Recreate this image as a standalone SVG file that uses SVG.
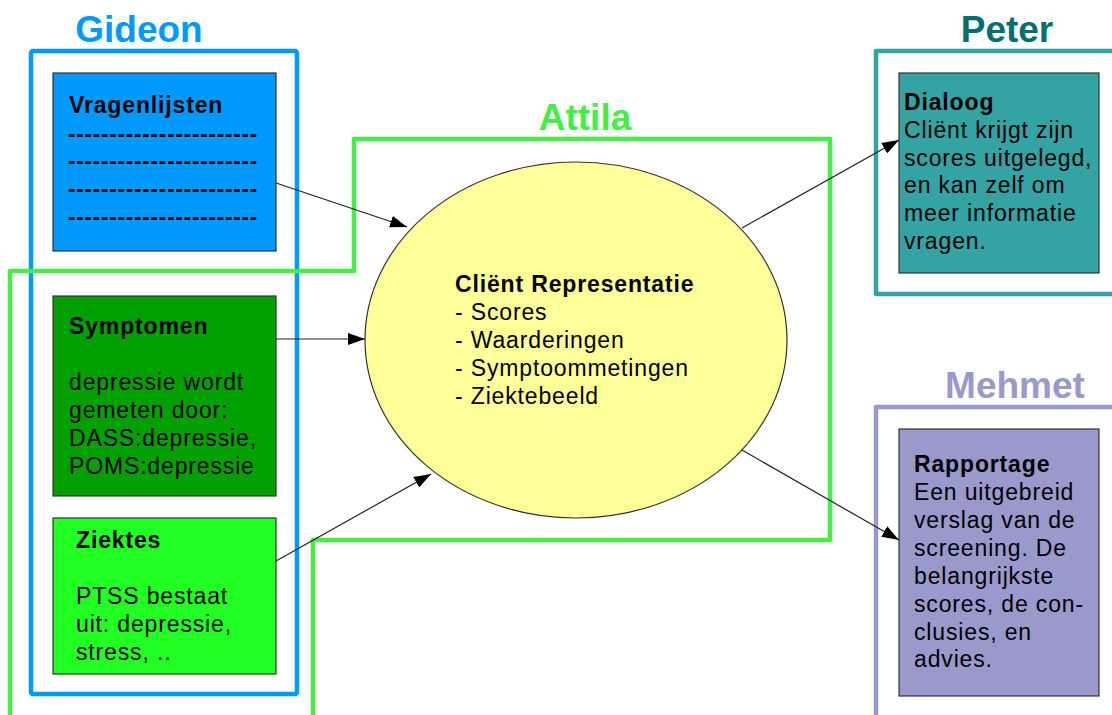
<svg xmlns="http://www.w3.org/2000/svg" width="1112" height="715" viewBox="0 0 1112 715">
<style>
text{font-family:"Liberation Sans",Arial,sans-serif;fill:#000}
.t{font-size:23px;letter-spacing:0.85px}
.b{font-weight:bold}
.lbl{font-size:37px;font-weight:bold;text-anchor:middle}
.box{stroke:#333;stroke-width:1.2}
.frame{fill:none;stroke-width:4.5;stroke-linejoin:round}
.conn{stroke:#222;stroke-width:1.2;fill:none;marker-end:url(#ah)}
</style>
<defs>
<marker id="ah" markerUnits="userSpaceOnUse" markerWidth="18" markerHeight="12" refX="17" refY="6" orient="auto">
<path d="M0,0 L17,6 L0,12 Z" fill="#000"/>
</marker>
</defs>
<rect width="1112" height="715" fill="#fff"/>

<g id="frame-gideon">
<rect class="frame" x="31" y="51" width="266" height="643" rx="2" stroke="#0099ff"/>
<text class="lbl" x="139" y="42" style="fill:#0099ff">Gideon</text>
</g>

<g id="frame-peter">
<rect class="frame" x="876" y="51" width="260" height="243" stroke="#33a3a3"/>
<text class="lbl" x="1007" y="42" style="fill:#007070">Peter</text>
</g>

<g id="frame-mehmet">
<rect class="frame" x="876" y="407" width="260" height="340" stroke="#9999cc"/>
<text class="lbl" x="1015" y="398" style="fill:#9999cc">Mehmet</text>
</g>

<g id="ellipse-client">
<ellipse cx="576" cy="340" rx="211" ry="178" fill="#ffff99" stroke="#333" stroke-width="1.2"/>
<text class="t" x="455" y="292"><tspan class="b">Cliënt Representatie</tspan><tspan x="455" dy="28">- Scores</tspan><tspan x="455" dy="28">- Waarderingen</tspan><tspan x="455" dy="28">- Symptoommetingen</tspan><tspan x="455" dy="28">- Ziektebeeld</tspan></text>
</g>

<g id="frame-attila">
<path class="frame" d="M10,720 V271 H354 V139 H830 V540 H313 V720" stroke="#44ee44"/>
<text class="lbl" x="585" y="130" style="fill:#44ee44">Attila</text>
</g>

<g id="node-vragenlijsten">
<rect class="box" x="53" y="73" width="223" height="178" fill="#0099ff"/>
<text class="t b" x="69" y="113">Vragenlijsten</text>
<text class="t b" x="68" y="142" textLength="190" lengthAdjust="spacingAndGlyphs">-----------------------</text>
<text class="t b" x="68" y="169" textLength="190" lengthAdjust="spacingAndGlyphs">-----------------------</text>
<text class="t b" x="68" y="197" textLength="190" lengthAdjust="spacingAndGlyphs">-----------------------</text>
<text class="t b" x="68" y="225" textLength="190" lengthAdjust="spacingAndGlyphs">-----------------------</text>
</g>

<g id="node-symptomen">
<rect class="box" x="53" y="296" width="223" height="200" fill="#00a000"/>
<text class="t" x="69" y="334"><tspan class="b">Symptomen</tspan><tspan x="69" dy="56">depressie wordt</tspan><tspan x="69" dy="28">gemeten door:</tspan><tspan x="69" dy="28">DASS:depressie,</tspan><tspan x="69" dy="28">POMS:depressie</tspan></text>
</g>

<g id="node-ziektes">
<rect class="box" x="53" y="518" width="223" height="156" fill="#22ff22"/>
<text class="t" x="76" y="548"><tspan class="b">Ziektes</tspan><tspan x="76" dy="56">PTSS bestaat</tspan><tspan x="76" dy="28">uit: depressie,</tspan><tspan x="76" dy="28">stress, ..</tspan></text>
</g>

<g id="node-dialoog">
<rect class="box" x="899" y="73" width="200" height="200" fill="#33a3a3"/>
<text class="t" x="904" y="110"><tspan class="b">Dialoog</tspan><tspan x="904" dy="28">Cliënt krijgt zijn</tspan><tspan x="904" dy="28">scores uitgelegd,</tspan><tspan x="904" dy="27">en kan zelf om</tspan><tspan x="904" dy="28">meer informatie</tspan><tspan x="904" dy="28">vragen.</tspan></text>
</g>

<g id="node-rapportage">
<rect class="box" x="899" y="429" width="200" height="267" fill="#9999cc"/>
<text class="t" x="914" y="472"><tspan class="b">Rapportage</tspan><tspan x="914" dy="28">Een uitgebreid</tspan><tspan x="914" dy="28">verslag van de</tspan><tspan x="914" dy="28">screening. De</tspan><tspan x="914" dy="28">belangrijkste</tspan><tspan x="914" dy="28">scores, de con-</tspan><tspan x="914" dy="28">clusies, en</tspan><tspan x="914" dy="27">advies.</tspan></text>
</g>

<g id="connectors">
<line class="conn" x1="276" y1="183" x2="407" y2="227"/>
<line class="conn" x1="276" y1="339" x2="365" y2="339"/>
<line class="conn" x1="276" y1="561" x2="431" y2="474"/>
<line class="conn" x1="742" y1="228" x2="899" y2="140"/>
<line class="conn" x1="742" y1="450" x2="899" y2="540"/>
</g>
</svg>
